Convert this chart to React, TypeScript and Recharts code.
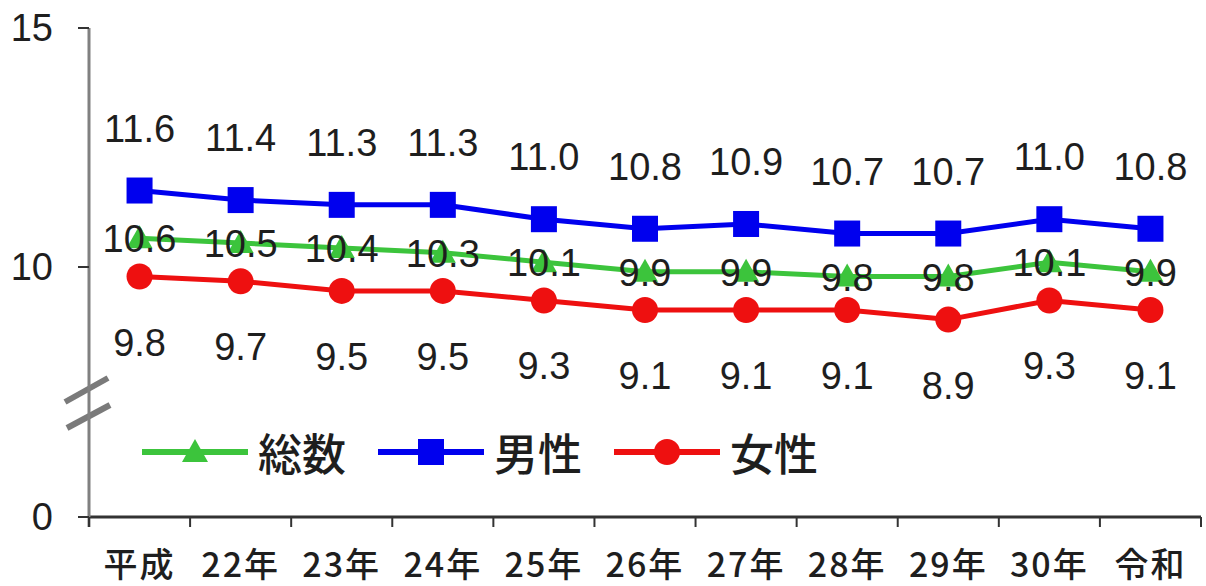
import { Customized, LabelList, Legend, Line, LineChart, XAxis, YAxis } from 'recharts'

// 年次別の率（総数・男性・女性）
const years = ['平成', '22年', '23年', '24年', '25年', '26年', '27年', '28年', '29年', '30年', '令和']
const totalRates = [10.6, 10.5, 10.4, 10.3, 10.1, 9.9, 9.9, 9.8, 9.8, 10.1, 9.9]
const maleRates = [11.6, 11.4, 11.3, 11.3, 11.0, 10.8, 10.9, 10.7, 10.7, 11.0, 10.8]
const femaleRates = [9.8, 9.7, 9.5, 9.5, 9.3, 9.1, 9.1, 9.1, 8.9, 9.3, 9.1]

// the axis is broken between 0 and 10: the bottom of the visible scale is labelled 0
const AXIS_FLOOR = 4.77
const AXIS_TOP = 15
const yTicks = [AXIS_FLOOR, 10, 15]

const data = years.map((year, i) => ({
  year,
  total: totalRates[i],
  male: maleRates[i],
  female: femaleRates[i],
}))

const WIDTH = 1206
const HEIGHT = 586
const MARGIN = { top: 28, right: 5, bottom: 9, left: 9 }
const Y_AXIS_WIDTH = 80
const X_AXIS_HEIGHT = 60
const PLOT_LEFT = MARGIN.left + Y_AXIS_WIDTH
const PLOT_WIDTH = WIDTH - PLOT_LEFT - MARGIN.right
const BAND = PLOT_WIDTH / years.length

const NUM_FONT = "'Liberation Sans', Arial, sans-serif"
const JP_FONT = "'Noto Sans CJK JP', 'Liberation Sans', sans-serif"
const TEXT = '#1e1e1e'

type Shape = 'triangle' | 'square' | 'circle'

const series: { key: 'total' | 'male' | 'female'; name: string; color: string; shape: Shape; labelDy: number }[] = [
  { key: 'total', name: '総数', color: '#3cc43c', shape: 'triangle', labelDy: 1 },
  { key: 'male', name: '男性', color: '#0000ee', shape: 'square', labelDy: -62 },
  { key: 'female', name: '女性', color: '#ee1010', shape: 'circle', labelDy: 66 },
]

function Marker({ cx, cy, shape, color }: { cx: number; cy: number; shape: Shape; color: string }) {
  if (shape === 'square') {
    return <rect x={cx - 13} y={cy - 13} width={26} height={26} fill={color} />
  }
  if (shape === 'circle') {
    return <circle cx={cx} cy={cy} r={13} fill={color} />
  }
  return <polygon points={`${cx},${cy - 13} ${cx + 13},${cy + 10} ${cx - 13},${cy + 10}`} fill={color} />
}

function YearTick(props: any) {
  const { x, y, payload, index } = props
  const isLast = index === years.length - 1
  return (
    <g>
      <line x1={x - BAND / 2} x2={x - BAND / 2} y1={y} y2={y + 10} stroke="#333" strokeWidth={2} />
      {isLast && <line x1={x + BAND / 2} x2={x + BAND / 2} y1={y} y2={y + 10} stroke="#333" strokeWidth={2} />}
      <text
        x={x}
        y={y + 45}
        textAnchor="middle"
        dominantBaseline="central"
        fontFamily={JP_FONT}
        fontWeight={500}
        fontSize={34}
        letterSpacing={2}
        fill={TEXT}
      >
        {payload.value}
      </text>
    </g>
  )
}

// "//" break marks drawn across the y axis
function AxisBreak() {
  const x = PLOT_LEFT
  return (
    <g>
      <line x1={x} x2={x} y1={517} y2={527} stroke="#808080" strokeWidth={3} />
      <rect x={x - 6} y={380} width={12} height={53} fill="#fff" />
      <line x1={x - 24} y1={402} x2={x + 19} y2={378} stroke="#7a7a7a" strokeWidth={6} />
      <line x1={x - 22} y1={428} x2={x + 21} y2={405} stroke="#7a7a7a" strokeWidth={6} />
    </g>
  )
}

function LegendContent() {
  return (
    <div style={{ display: 'flex', alignItems: 'center' }}>
      {series.map((s) => (
        <div key={s.key} style={{ display: 'flex', alignItems: 'center', marginRight: 32 }}>
          <svg width={106} height={40}>
            <line x1={0} x2={106} y1={20} y2={20} stroke={s.color} strokeWidth={6} />
            <Marker cx={53} cy={20} shape={s.shape} color={s.color} />
          </svg>
          <span
            style={{
              marginLeft: 10,
              fontFamily: JP_FONT,
              fontWeight: 500,
              fontSize: 44,
              lineHeight: '44px',
              color: TEXT,
            }}
          >
            {s.name}
          </span>
        </div>
      ))}
    </div>
  )
}

export default function App() {
  return (
    <div style={{ position: 'absolute', left: 0, top: 0, width: WIDTH, height: HEIGHT, background: '#fff' }}>
      <LineChart width={WIDTH} height={HEIGHT} data={data} margin={MARGIN}>
        <XAxis
          dataKey="year"
          height={X_AXIS_HEIGHT}
          padding={{ left: BAND / 2, right: BAND / 2 }}
          axisLine={{ stroke: '#333', strokeWidth: 3 }}
          tickLine={false}
          tickSize={0}
          tickMargin={0}
          interval={0}
          tick={<YearTick />}
        />
        <YAxis
          type="number"
          width={Y_AXIS_WIDTH}
          domain={[AXIS_FLOOR, AXIS_TOP]}
          ticks={yTicks}
          interval={0}
          allowDataOverflow
          axisLine={{ stroke: '#808080', strokeWidth: 3 }}
          tickLine={{ stroke: '#333', strokeWidth: 2 }}
          tickSize={11}
          tickMargin={25}
          tickFormatter={(v: number) => (v === AXIS_FLOOR ? '0' : String(v))}
          tick={{ fill: TEXT, fontSize: 38, fontFamily: NUM_FONT }}
        />
        <Customized component={AxisBreak} />
        <Legend
          layout="horizontal"
          verticalAlign="middle"
          align="center"
          wrapperStyle={{ left: 142, top: 430, width: 'auto' }}
          content={() => <LegendContent />}
        />
        {series.map((s) => (
          <Line
            key={s.key}
            dataKey={s.key}
            name={s.name}
            stroke={s.color}
            strokeWidth={5}
            isAnimationActive={false}
            dot={(p: any) => <Marker key={p.index} cx={p.cx} cy={p.cy} shape={s.shape} color={s.color} />}
            activeDot={false}
          >
            <LabelList
              dataKey={s.key}
              content={(p: any) => (
                <text
                  x={p.x}
                  y={p.y + s.labelDy}
                  textAnchor="middle"
                  dominantBaseline="central"
                  fontFamily={NUM_FONT}
                  fontSize={38}
                  fill={TEXT}
                >
                  {Number(p.value).toFixed(1)}
                </text>
              )}
            />
          </Line>
        ))}
      </LineChart>
    </div>
  )
}
